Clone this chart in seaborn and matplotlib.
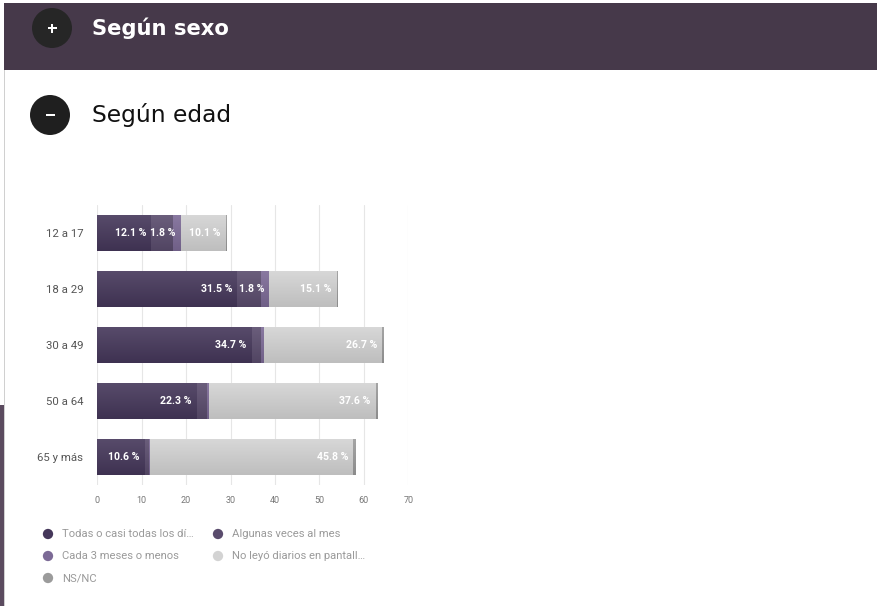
import numpy as np
import pandas as pd
import matplotlib
matplotlib.use("Agg")
import matplotlib.pyplot as plt
from matplotlib.patches import Rectangle, Circle
from matplotlib.colors import to_rgb
import seaborn as sns

# Lectura de diarios en pantalla, según edad (%)
edades = ["12 a 17", "18 a 29", "30 a 49", "50 a 64", "65 y más"]
todas = [12.1, 31.5, 34.7, 22.3, 10.6]
algunas = [4.9, 5.4, 2.2, 2.4, 1.0]
cada3 = [1.8, 1.8, 0.5, 0.4, 0.2]
no_leyo = [10.1, 15.1, 26.7, 37.6, 45.8]
nsnc = [0.3, 0.4, 0.4, 0.4, 0.5]

series = [todas, algunas, cada3, no_leyo, nsnc]
series_labels = ["Todas o casi todas los dí…", "Algunas veces al mes",
                 "Cada 3 meses o menos", "No leyó diarios en pantall…", "NS/NC"]
series_colors = ["#45375a", "#5a4c6d", "#7c6a96", "#d3d3d3", "#9b9b9b"]
show_values = [True, False, True, True, False]
x_ticks = [0, 10, 20, 30, 40, 50, 60, 70]

W, H = 877, 606
sns.set_theme(style="white")
plt.rcParams["font.family"] = ["Roboto", "DejaVu Sans"]
HEAD_FONT = ["DejaVu Sans"]

fig = plt.figure(figsize=(W / 100, H / 100), dpi=100)
fig.patch.set_facecolor("white")

# page decoration layer in pixel coordinates
bg = fig.add_axes([0, 0, 1, 1])
bg.set_xlim(0, W)
bg.set_ylim(H, 0)
bg.axis("off")
bg.set_zorder(0)

bg.add_patch(Rectangle((4, 3), W - 4, 67, color="#46394a", lw=0))
bg.add_patch(Rectangle((4, 70), 1.2, H - 70, color="#d0d0d0", lw=0))
bg.add_patch(Rectangle((0, 405), 4, H - 405, color="#5b4b5f", lw=0))
bg.add_patch(Circle((52, 28), 20, color="#262626", lw=0))
bg.add_patch(Rectangle((47.5, 26.8), 9, 2.4, color="white", lw=0))
bg.add_patch(Rectangle((50.8, 23.5), 2.4, 9, color="white", lw=0))
bg.text(92, 28, "Según sexo", color="white", fontsize=15.2, fontweight="bold",
        ha="left", va="center", family=HEAD_FONT)
bg.add_patch(Circle((50, 115), 20, color="#1f1f1f", lw=0))
bg.add_patch(Rectangle((45.5, 113.6), 9, 2.8, color="white", lw=0))
bg.text(92, 115, "Según edad", color="#111111", fontsize=16.8, fontweight="normal",
        ha="left", va="center", family=HEAD_FONT)

# stacked horizontal bars
ax = fig.add_axes([97.3 / W, 1 - 485 / H, (408.3 - 97.3) / W, (485 - 205) / H])
ax.set_zorder(1)
ax.patch.set_alpha(0)

cum = np.cumsum(np.array(series, dtype=float), axis=0)
for j in reversed(range(len(series))):
    df = pd.DataFrame({"edad": edades, "fin": cum[j]})
    sns.barplot(data=df, x="fin", y="edad", orient="h", color=series_colors[j],
                saturation=1, width=0.63, errorbar=None, ax=ax, linewidth=0)

# soft vertical shading on each bar
for k, p in enumerate(list(ax.patches)):
    base = np.array(to_rgb(p.get_facecolor()))
    top = base + (1 - base) * 0.10
    bottom = base * 0.90
    t = np.linspace(0, 1, 64)[:, None, None]
    grad = top[None, None, :] * (1 - t) + bottom[None, None, :] * t
    x0, y0 = p.get_x(), p.get_y()
    x1, y1 = x0 + p.get_width(), y0 + p.get_height()
    im = ax.imshow(grad, extent=[x0, x1, y1, y0], aspect="auto",
                   interpolation="bilinear", zorder=1.5 + k * 0.001)
    im.set_clip_path(p)

for j, vals in enumerate(series):
    if not show_values[j]:
        continue
    for i, v in enumerate(vals):
        if v < 1:
            continue
        ax.annotate(f"{v:.1f} %", xy=(cum[j][i], i), xytext=(-3.6, 0),
                    textcoords="offset points", ha="right", va="center",
                    color="white", fontsize=7.6, fontweight="bold", zorder=5)

ax.set_xlim(0, 70)
ax.set_ylim(4.5, -0.5)
ax.set_xticks(x_ticks)
ax.set_xticklabels([str(t) for t in x_ticks])
ax.set_xlabel("")
ax.set_ylabel("")
ax.grid(axis="x", color="#e6e6e6", linewidth=0.8)
ax.grid(axis="y", visible=False)
ax.set_axisbelow(True)
for s in ax.spines.values():
    s.set_visible(False)
ax.tick_params(axis="x", length=0, pad=8, labelsize=6.5, labelcolor="#777777")
ax.tick_params(axis="y", length=0, pad=10, labelsize=8.2, labelcolor="#555555")

# legend
legend_pos = [(48, 534), (218, 534), (48, 556), (218, 556), (48, 578)]
for (lx, ly), lab, col in zip(legend_pos, series_labels, series_colors):
    bg.scatter([lx], [ly], s=55, color=col, edgecolors="none")
    bg.text(lx + 14, ly, lab, color="#9a9a9a", fontsize=8.1, ha="left", va="center")

fig.savefig("out.png", dpi=100, facecolor="white")
